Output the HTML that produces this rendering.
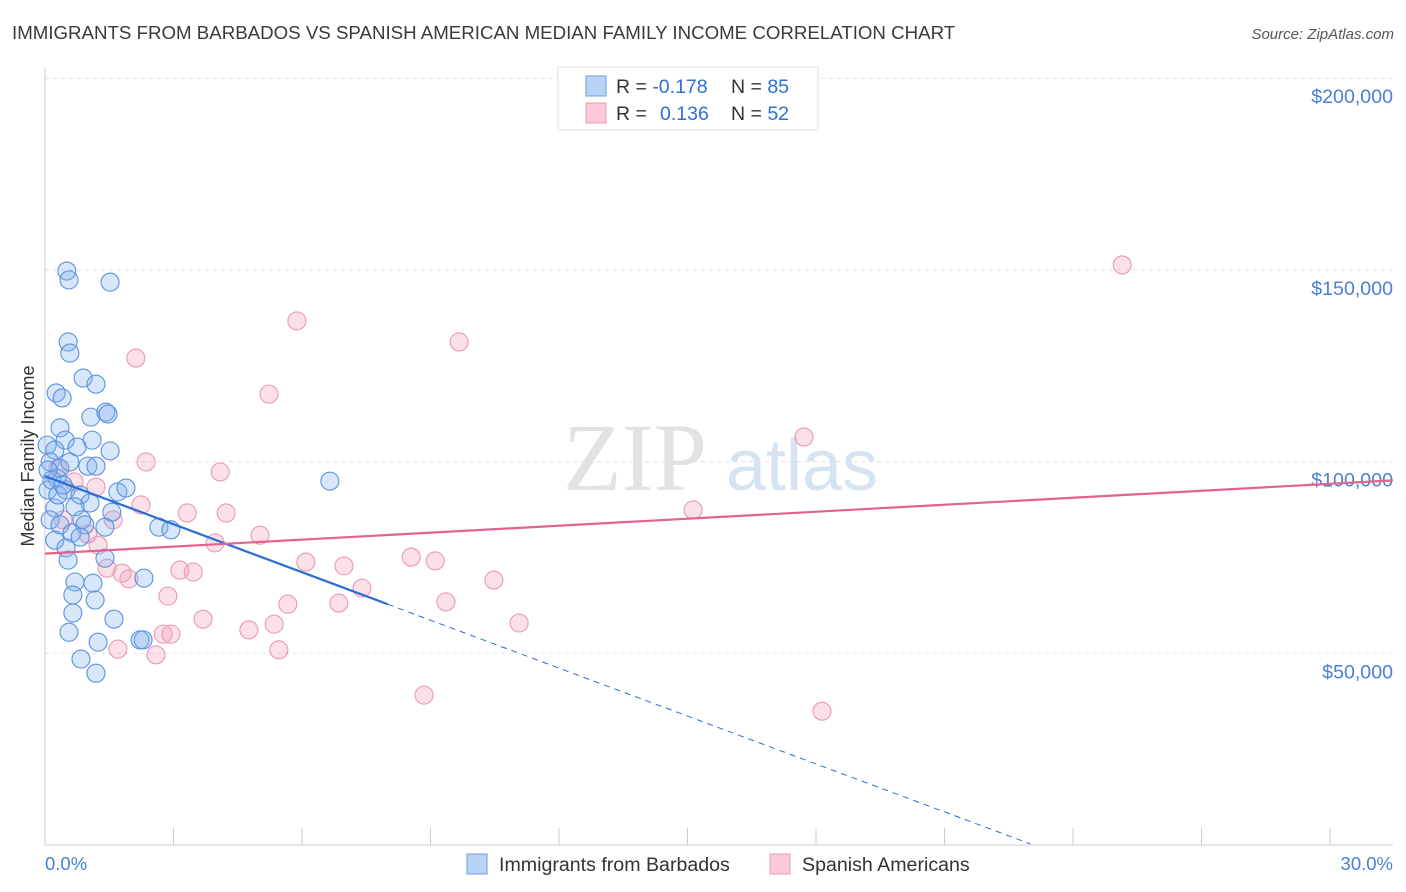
<!DOCTYPE html>
<html><head><meta charset="utf-8"><style>
body{margin:0;background:#fff;font-family:"Liberation Sans",sans-serif;}
svg{display:block}
</style></head><body>
<svg id="chart" width="1406" height="892" viewBox="0 0 1406 892" xmlns="http://www.w3.org/2000/svg">
<text x="12" y="39" font-size="18.7" fill="#3a3a3a" font-family="Liberation Sans, sans-serif">IMMIGRANTS FROM BARBADOS VS SPANISH AMERICAN MEDIAN FAMILY INCOME CORRELATION CHART</text>
<text x="1394" y="39" font-size="15" fill="#555" font-style="italic" text-anchor="end" font-family="Liberation Sans, sans-serif">Source: ZipAtlas.com</text>
<g id="grid"></g>
<g>
<text x="635" y="490" font-size="96" fill="#e2e2e2" text-anchor="middle" font-family="Liberation Serif, serif">ZIP</text>
<text x="802" y="490" font-size="72" fill="#d5e3f3" text-anchor="middle" font-family="Liberation Sans, sans-serif">atlas</text>
</g>
<line x1="45" y1="68" x2="45" y2="845" stroke="#ccc" stroke-width="1"/>
<line x1="45" y1="845" x2="1393" y2="845" stroke="#ccc" stroke-width="1"/>
<text transform="translate(34,456) rotate(-90)" font-size="18" fill="#333" text-anchor="middle" font-family="Liberation Sans, sans-serif">Median Family Income</text>
<text x="45" y="870" font-size="18.5" fill="#4a7fd4" font-family="Liberation Sans, sans-serif">0.0%</text>
<text x="1393" y="870" font-size="18.5" fill="#4a7fd4" text-anchor="end" font-family="Liberation Sans, sans-serif">30.0%</text>
<g id="pts"></g>
<g id="trends"></g>
<g>
<rect x="558" y="67" width="260" height="63" fill="#fff" stroke="#ddd"/>
<rect x="586" y="76" width="20" height="20" fill="#b8d3f5" stroke="#6a9fe6"/>
<rect x="586" y="103" width="20" height="20" fill="#f9c9d8" stroke="#ec99b4"/>
<text x="616" y="93" font-size="19.5" fill="#333" font-family="Liberation Sans, sans-serif">R = <tspan fill="#2f6fd0">-0.178</tspan><tspan x="731">N = </tspan><tspan fill="#2f6fd0">85</tspan></text>
<text x="616" y="120" font-size="19.5" fill="#333" font-family="Liberation Sans, sans-serif">R = <tspan x="660" fill="#2f6fd0">0.136</tspan><tspan x="731">N = </tspan><tspan fill="#2f6fd0">52</tspan></text>
</g>
<g>
<rect x="467" y="854" width="20" height="20" fill="#b8d3f5" stroke="#6a9fe6"/>
<text x="499" y="871" font-size="19.6" fill="#333" font-family="Liberation Sans, sans-serif">Immigrants from Barbados</text>
<rect x="770" y="854" width="20" height="20" fill="#f9c9d8" stroke="#ec99b4"/>
<text x="802" y="871" font-size="19.6" fill="#333" font-family="Liberation Sans, sans-serif">Spanish Americans</text>
</g>
</svg>
<script>
const yTicks=[50000,100000,150000,200000];
const yTickLabels=["$50,000","$100,000","$150,000","$200,000"];
const xTicks=[0,3,6,9,12,15,18,21,24,27,30];
const blueX=[0.51,0.56,1.52,0.54,0.58,0.89,1.19,0.26,0.40,1.07,1.42,1.47,0.35,0.47,1.10,0.75,1.52,0.05,0.23,0.12,0.35,0.58,1.00,1.19,1.70,1.89,0.28,0.07,0.49,0.82,1.05,6.65,0.23,0.70,1.56,2.66,2.94,0.86,0.12,0.35,0.93,1.40,0.63,0.23,0.82,0.49,1.40,0.54,2.31,0.70,1.12,0.65,1.17,0.65,1.61,0.56,2.22,2.29,1.24,0.84,1.19,0.07,0.16,0.30,0.42];
const blueY=[149.7,147.4,146.8,131.2,128.3,121.8,120.2,117.9,116.6,111.6,112.9,112.4,108.8,105.6,105.6,103.8,102.8,104.3,103.0,99.9,98.3,99.9,98.8,98.8,92.1,93.1,95.7,92.6,92.6,91.3,89.2,94.9,87.9,88.2,86.8,82.9,82.2,84.8,84.8,83.5,83.5,82.9,81.4,79.5,80.3,77.5,74.8,74.3,69.6,68.6,68.3,65.2,63.9,60.5,58.9,55.5,53.5,53.5,52.9,48.5,44.8,97.8,95.2,91.3,93.9];
const pinkX=[25.15,5.88,9.67,2.12,5.23,17.72,2.36,4.09,0.30,0.68,1.19,2.24,3.32,4.23,15.13,1.59,0.42,5.02,1.00,1.24,3.97,6.09,6.98,8.55,9.11,10.48,1.45,1.80,1.96,3.15,3.46,7.40,2.87,5.67,6.86,9.36,3.69,5.35,11.07,4.76,2.76,2.94,1.70,2.59,5.46,8.85,18.14];
const pinkY=[151.3,136.7,131.2,127.0,117.6,106.4,99.9,97.3,98.3,94.7,93.4,88.7,86.6,86.6,87.4,84.8,84.8,80.8,81.1,78.2,78.8,73.8,72.8,75.1,74.1,69.1,72.2,70.9,69.4,71.7,71.2,67.0,64.9,62.8,63.1,63.4,58.9,57.6,57.9,56.1,55.0,55.0,51.1,49.6,50.9,39.1,34.9];
const blueTrend=[[0,96.2],[8.0,62.8],[23.0,0.3]];
const pinkTrend=[[0,76.0],[31.47,95.1]];
const X=v=>45+v*1285/30;
const Y=v=>845-v*191.7/50;
const NS="http://www.w3.org/2000/svg";
function mk(t,a,p){const e=document.createElementNS(NS,t);for(const k in a)e.setAttribute(k,a[k]);p.appendChild(e);return e;}
const grid=document.getElementById('grid');
yTicks.forEach((t,i)=>{
 const l=mk('line',{x1:45,x2:1393,y1:Y(t/1000),y2:Y(t/1000),stroke:'#e0e0e0','stroke-dasharray':'4,4'},grid);
 
 
 const tx=mk('text',{x:1393,y:Y(t/1000)+25,'font-size':19.6,fill:'#4a7fd4','text-anchor':'end','font-family':'Liberation Sans, sans-serif'},grid);
 tx.textContent=yTickLabels[i];
 
 
});
xTicks.forEach(t=>{
 const l=mk('line',{x1:X(t),x2:X(t),y1:828,y2:845,stroke:'#ccc'},grid);
 
 
});
const pts=document.getElementById('pts');
pinkX.forEach((x,i)=>{
 const c=mk('circle',{cx:X(x),cy:Y(pinkY[i]),r:9,fill:'rgba(244,160,188,0.32)',stroke:'#eb98b4','stroke-width':1.1},pts);
 
 
});
blueX.forEach((x,i)=>{
 const c=mk('circle',{cx:X(x),cy:Y(blueY[i]),r:9,fill:'rgba(130,176,236,0.32)',stroke:'#5a92e0','stroke-width':1.1},pts);
 
 
});
const tr=document.getElementById('trends');
const b1=mk('line',{x1:X(blueTrend[0][0]),y1:Y(blueTrend[0][1]),x2:X(blueTrend[1][0]),y2:Y(blueTrend[1][1]),stroke:'#2a6dd8','stroke-width':2.2},tr);


const b2=mk('line',{x1:X(blueTrend[1][0]),y1:Y(blueTrend[1][1]),x2:X(blueTrend[2][0]),y2:Y(blueTrend[2][1]),stroke:'#2a6dd8','stroke-width':1,'stroke-dasharray':'6,5'},tr);


const p1=mk('line',{x1:X(pinkTrend[0][0]),y1:Y(pinkTrend[0][1]),x2:X(pinkTrend[1][0]),y2:Y(pinkTrend[1][1]),stroke:'#e3638c','stroke-width':2.2},tr);


</script>
</body></html>
